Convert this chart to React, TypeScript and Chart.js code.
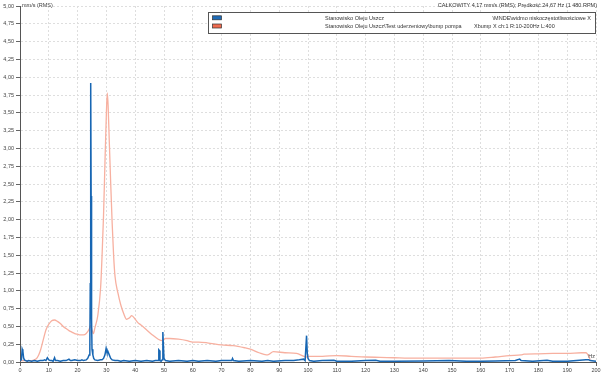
import { useEffect, useRef } from 'react';
import { Chart, registerables } from 'chart.js';

Chart.register(...registerables);

const titleText = 'CAŁKOWITY 4,17 mm/s (RMS); Prędkość 24,67 Hz (1 480 RPM)';
const yUnit = 'mm/s (RMS)';
const xUnit = 'Hz';

const seriesNames = [
  'Stanowisko Oleju Uszcz',
  'Stanowisko Oleju Uszcz\\Test uderzeniowy\\bump pompa',
];
const seriesDetails = [
  '\\MNDE\\widmo niskoczęstotliwościowe X',
  'Xbump X ch:1 R:10-200Hz L:400',
];

const xTickValues = [0, 10, 20, 30, 40, 50, 60, 70, 80, 90, 100, 110, 120, 130, 140, 150, 160, 170, 180, 190, 200];
const yTickValues = [0, 0.25, 0.5, 0.75, 1, 1.25, 1.5, 1.75, 2, 2.25, 2.5, 2.75, 3, 3.25, 3.5, 3.75, 4, 4.25, 4.5, 4.75, 5];

const blueFreq = [
  0, 0.5, 0.75, 1.0, 1.25, 1.5, 2, 2.5, 3, 4, 5, 6, 7, 8, 8.5, 9, 9.5, 10, 10.5, 11, 11.5, 12, 12.3, 13, 14, 15, 16, 16.5, 17, 17.5,
  18, 19, 20, 21, 21.5, 22, 23, 23.5, 24, 24.25, 24.4, 24.55, 24.7, 24.85, 25, 25.3, 25.6, 26, 27, 28, 28.5, 29, 29.5, 29.9, 30.2,
  30.5, 31, 31.5, 32, 33, 34, 35, 36, 38, 40, 42, 44, 46, 47, 48, 48.2, 48.4, 48.6, 49, 49.4, 49.6, 49.8, 50, 50.5, 52, 55, 58, 60,
  62, 65, 68, 70, 73.5, 73.8, 74.1, 76, 80, 84, 86, 88, 92, 95, 97, 98.5, 99, 99.5, 99.75, 100, 100.5, 102, 105, 109, 110, 115, 120,
  123.5, 125, 130, 140, 149, 155, 160, 165, 172, 173.5, 174, 178, 183, 185, 190, 196.5, 197.5, 198, 200,
];
const blueVals = [
  0.02, 0.03, 0.18, 0.15, 0.06, 0.03, 0.02, 0.01, 0.02, 0.01, 0.02, 0.01, 0.02, 0.02, 0.03, 0.02, 0.06, 0.03, 0.02, 0.02, 0.01, 0.06, 0.02, 0.02, 0.01, 0.02, 0.02, 0.03, 0.04, 0.02,
  0.02, 0.03, 0.02, 0.02, 0.03, 0.02, 0.03, 0.05, 0.1, 0.2, 1.1, 3.92, 2.33, 0.6, 0.18, 0.1, 0.05, 0.03, 0.02, 0.03, 0.03, 0.05, 0.1, 0.19, 0.14,
  0.15, 0.1, 0.05, 0.03, 0.02, 0.02, 0.01, 0.02, 0.01, 0.02, 0.01, 0.02, 0.01, 0.02, 0.02, 0.17, 0.16, 0.02, 0.01, 0.03, 0.42, 0.22, 0.05, 0.02, 0.01, 0.02, 0.01, 0.02,
  0.01, 0.02, 0.01, 0.02, 0.02, 0.05, 0.02, 0.01, 0.02, 0.01, 0.02, 0.01, 0.02, 0.02, 0.03, 0.04, 0.02, 0.37, 0.12, 0.05, 0.02, 0.01, 0.02, 0.025, 0.01, 0.01, 0.02,
  0.025, 0.01, 0.01, 0.015, 0.02, 0.01, 0.01, 0.015, 0.02, 0.04, 0.02, 0.01, 0.025, 0.01, 0.01, 0.03, 0.03, 0.02, 0.01,
];

const orangeFreq = [
  0, 2, 4, 5, 6, 7, 8, 9, 10, 11, 12, 13, 14, 15, 16, 17, 18, 19, 20, 21, 22, 23, 24, 24.5, 25, 25.5, 26, 27, 28, 28.5, 29, 29.5,
  30, 30.3, 30.6, 31, 31.5, 32, 32.5, 33, 34, 35, 36, 37, 38, 38.8, 40, 41, 42, 44, 46, 48, 49.5, 50.5, 52, 55, 58, 60, 62, 65, 70,
  74, 78, 80, 83, 85.5, 86, 88, 92, 96, 99.5, 100.5, 103, 105, 110, 115, 120, 125, 130, 135, 140, 150, 160, 165, 170, 174, 175, 180,
  185, 190, 195, 196.5, 197.5, 198,
];
const orangeVals = [
  0.02, 0.02, 0.02, 0.03, 0.06, 0.15, 0.3, 0.45, 0.53, 0.58, 0.59, 0.57, 0.54, 0.5, 0.47, 0.44, 0.42, 0.4, 0.39, 0.38, 0.38, 0.4, 0.46, 0.51, 0.45, 0.4, 0.48, 0.65, 1.05, 1.5, 2.05, 2.8,
  3.5, 3.78, 3.6, 3.1, 2.5, 1.95, 1.5, 1.2, 0.97, 0.8, 0.68, 0.6, 0.62, 0.65, 0.6, 0.55, 0.52, 0.45, 0.38, 0.32, 0.3, 0.33, 0.33, 0.32, 0.3, 0.28, 0.28, 0.27, 0.24,
  0.23, 0.2, 0.18, 0.13, 0.1, 0.1, 0.145, 0.13, 0.12, 0.07, 0.08, 0.08, 0.08, 0.09, 0.08, 0.07, 0.065, 0.06, 0.055, 0.055, 0.055, 0.055, 0.07, 0.09, 0.1, 0.11, 0.115,
  0.12, 0.12, 0.13, 0.13, 0.08, 0.03,
];

const blueColor = '#1766b3';
const orangeColor = '#f7b0a0';
const blueSwatch = '#1f6cb8';
const orangeSwatch = '#ef6b4f';

const FONT = '"Liberation Sans", Arial, sans-serif';

const overlayPlugin = {
  id: 'overlay',
  afterDraw(chart: any) {
    const ctx = chart.ctx as CanvasRenderingContext2D;
    const area = chart.chartArea;
    ctx.save();
    ctx.font = `5.5px ${FONT}`;
    ctx.fillStyle = '#333';
    ctx.textBaseline = 'middle';
    ctx.textAlign = 'right';
    ctx.fillText(titleText, 597, 5);
    ctx.textAlign = 'left';
    ctx.fillStyle = '#444';
    ctx.fillText(yUnit, area.left + 2, 5);
    ctx.textAlign = 'right';
    ctx.fillText(xUnit, area.right - 1, area.bottom - 6);

    // legend box
    ctx.fillStyle = '#ffffff';
    ctx.fillRect(208.5, 12.5, 387, 21);
    ctx.strokeStyle = '#555';
    ctx.lineWidth = 1;
    ctx.strokeRect(208.5, 12.5, 387, 21);

    const rows = [18.3, 26.5];
    const swatches = [blueSwatch, orangeSwatch];
    const detailX = [591, 474];
    rows.forEach((y, i) => {
      ctx.fillStyle = swatches[i];
      ctx.fillRect(212.5, y - 2.5, 9, 4);
      ctx.strokeStyle = '#333';
      ctx.lineWidth = 0.7;
      ctx.strokeRect(212.5, y - 2.5, 9, 4);
      ctx.fillStyle = '#333';
      ctx.textAlign = 'left';
      ctx.fillText(seriesNames[i], 325, y);
      ctx.textAlign = i === 0 ? 'right' : 'left';
      ctx.fillText(seriesDetails[i], detailX[i], y);
    });
    ctx.restore();
  },
};

export default function App() {
  const ref = useRef<HTMLCanvasElement>(null);
  useEffect(() => {
    document.body.style.margin = '0';
    const canvas = ref.current;
    if (!canvas) return;
    const chart = new Chart(canvas, {
      type: 'line',
      data: {
        datasets: [
          {
            label: seriesNames[0],
            data: blueFreq.map((f, i) => ({ x: f, y: blueVals[i] })),
            borderColor: blueColor,
            borderWidth: 1.5,
            pointRadius: 0,
            tension: 0,
            fill: false,
          },
          {
            label: seriesNames[1],
            data: orangeFreq.map((f, i) => ({ x: f, y: orangeVals[i] })),
            borderColor: orangeColor,
            borderWidth: 1.3,
            pointRadius: 0,
            cubicInterpolationMode: 'monotone',
            fill: false,
          },
        ],
      },
      options: {
        responsive: false,
        animation: false,
        devicePixelRatio: 1,
        layout: { padding: { left: 0, right: 7, top: 6, bottom: 0 } },
        plugins: { legend: { display: false }, tooltip: { enabled: false }, title: { display: false } },
        scales: {
          x: {
            type: 'linear',
            min: 0,
            max: 200,
            afterBuildTicks: (scale: any) => {
              scale.ticks = xTickValues.map((v) => ({ value: v }));
            },
            afterFit: (scale: any) => {
              scale.height = 14;
            },
            ticks: {
              autoSkip: false,
              maxRotation: 0,
              padding: 1,
              color: '#444',
              font: { size: 5.5, family: FONT },
              callback: (v: any) => String(v),
            },
            grid: { color: '#dedede', tickLength: 4, tickColor: '#666', lineWidth: 1 },
            border: { display: true, color: '#555', width: 1, dash: [2, 2] },
          },
          y: {
            type: 'linear',
            min: 0,
            max: 5,
            afterBuildTicks: (scale: any) => {
              scale.ticks = yTickValues.map((v) => ({ value: v }));
            },
            afterFit: (scale: any) => {
              scale.width = 20;
            },
            ticks: {
              autoSkip: false,
              padding: 2,
              color: '#444',
              font: { size: 5.5, family: FONT },
              callback: (v: any) => Number(v).toFixed(2).replace('.', ','),
            },
            grid: { color: '#dedede', tickLength: 4, tickColor: '#666', lineWidth: 1 },
            border: { display: true, color: '#555', width: 1, dash: [2, 2] },
          },
        },
      },
      plugins: [overlayPlugin],
    } as any);
    return () => chart.destroy();
  }, []);
  return <canvas ref={ref} width={603} height={376} style={{ display: 'block', width: 603, height: 376 }} />;
}
